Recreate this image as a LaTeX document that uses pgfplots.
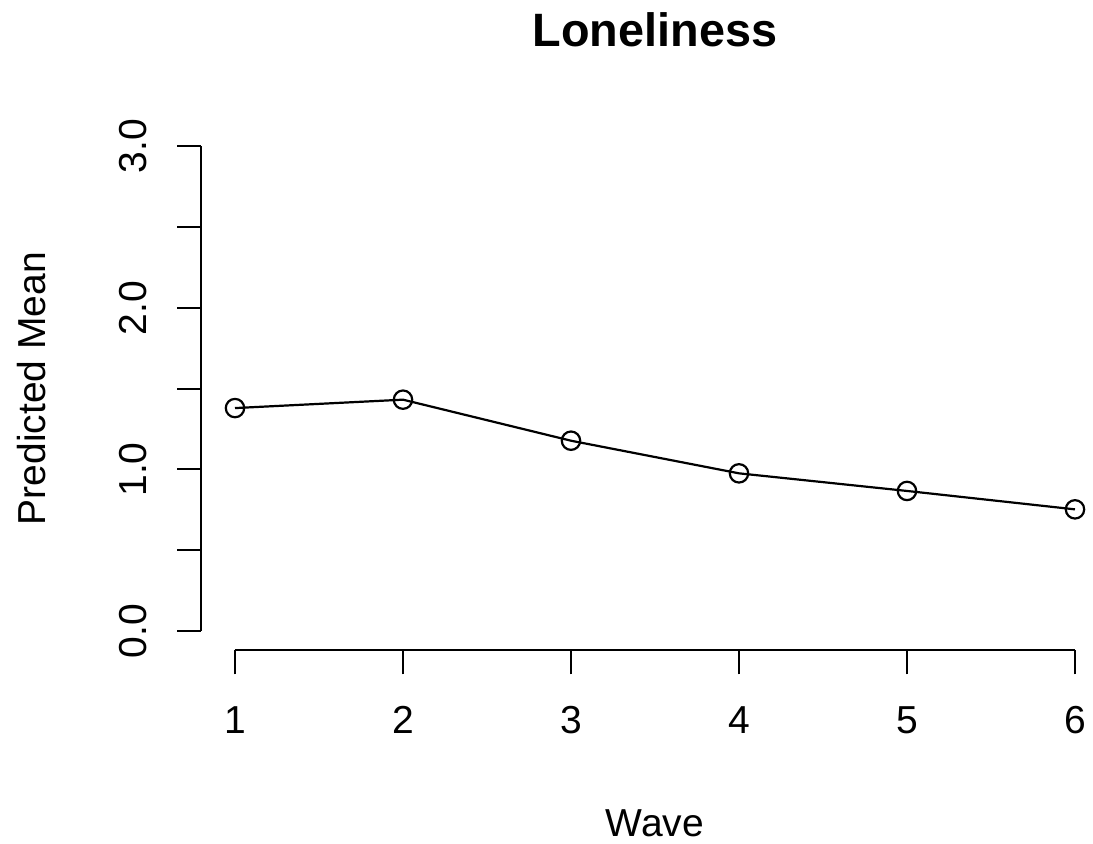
\documentclass[border=0pt]{standalone}
\usepackage{pgfplots}
\pgfplotsset{compat=1.18}
\usepackage{fontspec}
\setmainfont{Liberation Sans}
\newcommand{\lblfont}{\fontsize{19.5}{23}\selectfont}
\newcommand{\ttlfont}{\fontsize{23.4}{28}\selectfont\bfseries}
\begin{document}
\begin{tikzpicture}
\begin{axis}[
  scale only axis, width=453.6pt, height=261.7pt,
  xmin=0.8, xmax=6.2, ymin=-0.12, ymax=3.12,
  axis lines*=left, axis line style={draw=none},
  tick align=outside, major tick length=12pt,
  tick style={black, line width=1pt},
  xtick={1,2,3,4,5,6},
  ytick={0,0.5,1,1.5,2,2.5,3},
  yticklabels={0.0,,1.0,,2.0,,3.0},
  /pgf/number format/assume math mode=true,
  xticklabel style={font=\lblfont, anchor=base, inner sep=0pt, yshift=-29.5pt},
  yticklabel style={font=\lblfont, xshift=-15.5pt, rotate=90, anchor=base, inner sep=0pt},
  xlabel={Wave}, ylabel={Predicted Mean},
  xlabel style={font=\lblfont, at={([yshift=-93pt]axis description cs:0.5,0)}, anchor=base, inner sep=0pt},
  ylabel style={font=\lblfont, at={([xshift=-78pt]axis description cs:0,0.5)}, rotate=0, anchor=base, inner sep=0pt},
  title={Loneliness},
  title style={font=\ttlfont, at={([yshift=34pt]axis description cs:0.5,1)}, anchor=base, inner sep=0pt},
  clip=false,
]
\addplot[black, line width=1.1pt, mark=o, mark size=4.6pt, mark options={line width=1.1pt, fill=none}]
  coordinates {(1,1.380) (2,1.432) (3,1.178) (4,0.976) (5,0.867) (6,0.753)};
\draw[black, line width=1.1pt] (axis cs:1,-0.12) -- (axis cs:6,-0.12);
\draw[black, line width=1.1pt] (axis cs:0.8,0) -- (axis cs:0.8,3);
\end{axis}
\pgfresetboundingbox
\path[use as bounding box] (current axis.south west) ++(-100.7pt,-96.8pt) rectangle ++(546.5pt,422pt);
\end{tikzpicture}
\end{document}
